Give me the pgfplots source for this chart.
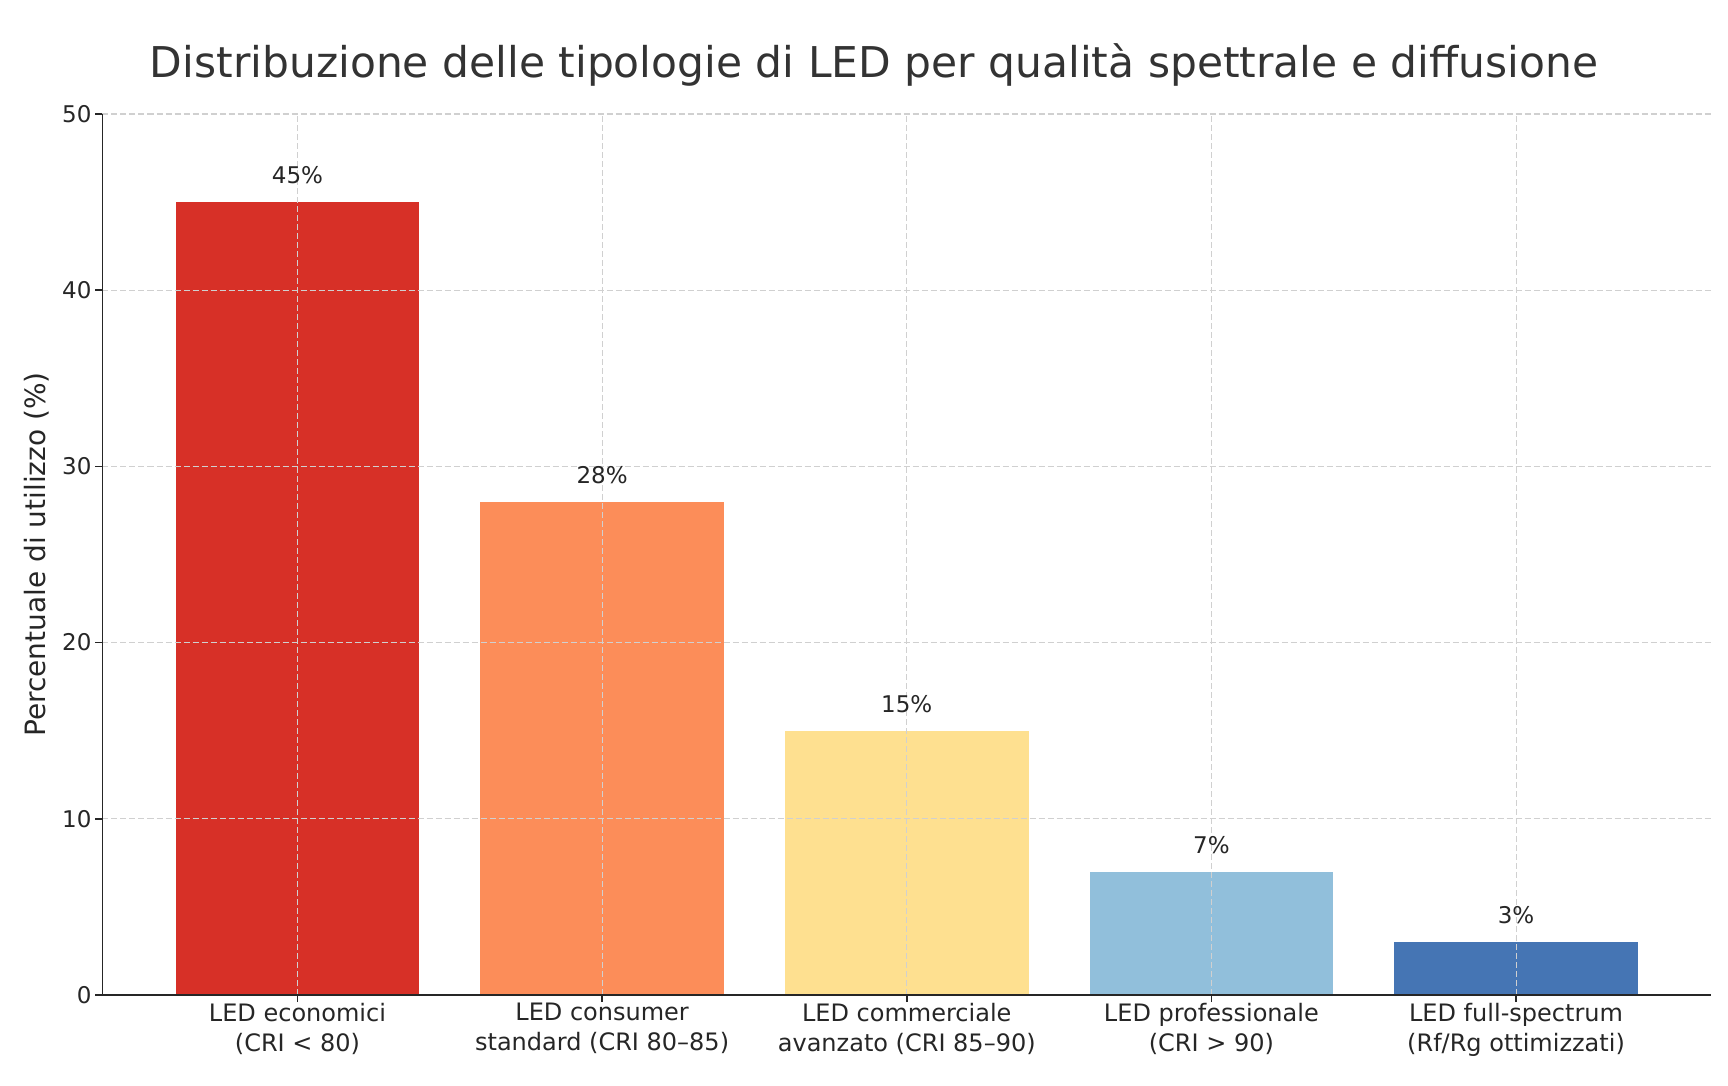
\documentclass[border=0pt]{standalone}
\usepackage{fontspec}
\setmainfont{DejaVu Sans}
\usepackage{pgfplots}
\pgfplotsset{compat=1.18}

\definecolor{cEcon}{HTML}{D73027}
\definecolor{cCons}{HTML}{FC8D59}
\definecolor{cComm}{HTML}{FEE090}
\definecolor{cProf}{HTML}{91BFDB}
\definecolor{cFull}{HTML}{4575B4}
\definecolor{txt}{HTML}{262626}
\definecolor{gridc}{HTML}{D0D0D0}

\begin{document}
\begin{tikzpicture}
\begin{axis}[
  at={(0pt,0pt)}, anchor=south west,
  scale only axis,
  width=804.25pt, height=440.5pt,
  xmin=-0.64, xmax=4.64,
  ymin=0, ymax=50,
  ytick={0,10,20,30,40,50},
  xtick={0,1,2,3,4},
  xticklabels={
    {LED economici\\(CRI < 80)},
    {LED consumer\\standard (CRI 80–85)},
    {LED commerciale\\avanzato (CRI 85–90)},
    {LED professionale\\(CRI > 90)},
    {LED full-spectrum\\(Rf/Rg ottimizzati)}},
  xticklabel style={align=center, font=\fontsize{12}{14.9}\selectfont, text=txt, yshift=3pt},
  yticklabel style={font=\fontsize{11.5}{13}\selectfont, text=txt, xshift=1.5pt},
  /pgf/number format/assume math mode=true,
  axis x line*=bottom, axis y line*=left,
  axis line style={line width=0.8pt, black!85, -},
  tick style={line width=0.8pt, black!85},
  tick align=outside,
  major tick length=3.5pt,
  grid=major,
  major grid style={gridc, line width=0.55pt, dash pattern=on 3pt off 1.5pt},
  axis on top,
  ylabel={Percentuale di utilizzo (\%)},
  ylabel style={font=\fontsize{14}{16}\selectfont, text=txt, at={(axis description cs:0,0.5)}, anchor=center, yshift=33pt},
  every axis plot/.append style={ybar, bar width=0.8, bar shift=0pt, draw=none},
  nodes near coords={\pgfmathprintnumber{\pgfplotspointmeta}\%},
  nodes near coords style={font=\fontsize{11.5}{13}\selectfont, text=txt, anchor=center, text depth=0pt, yshift=13.5pt},
  clip=false,
]
\addplot[fill=cEcon] coordinates {(0,45)};
\addplot[fill=cCons] coordinates {(1,28)};
\addplot[fill=cComm] coordinates {(2,15)};
\addplot[fill=cProf] coordinates {(3,7)};
\addplot[fill=cFull] coordinates {(4,3)};
\end{axis}
\node[font=\fontsize{21.2}{25}\selectfont, text=black!80, anchor=center] at (385.75pt,465pt)
  {Distribuzione delle tipologie di LED per qualità spettrale e diffusione};
\pgfresetboundingbox
\path[use as bounding box] (-51.25pt,-45.5pt) rectangle (812.75pt,497.5pt);
\end{tikzpicture}
\end{document}
